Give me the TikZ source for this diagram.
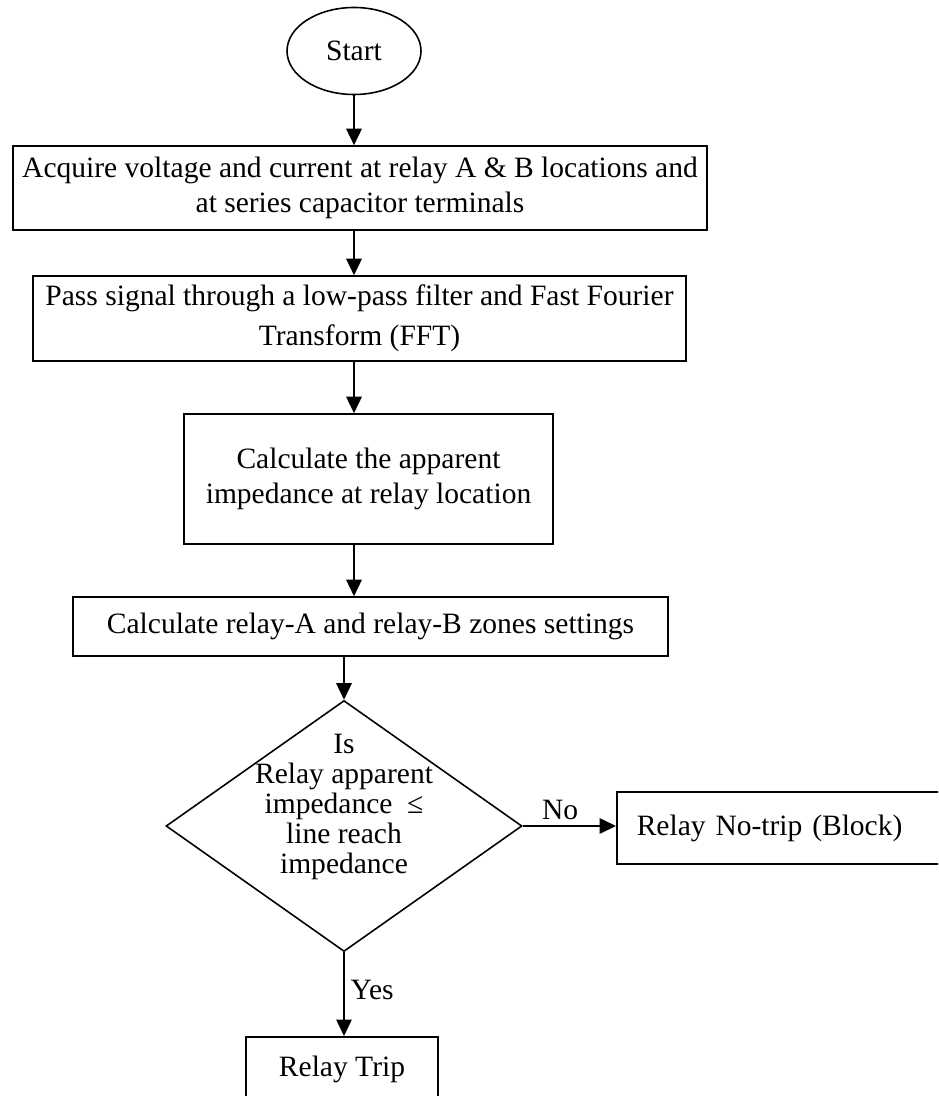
\documentclass[tikz,border=0pt]{standalone}
\usepackage{fontspec}
\setmainfont{Liberation Serif}
\usetikzlibrary{shapes.geometric,arrows.meta}

\begin{document}
\begin{tikzpicture}[
  box/.style={rectangle,draw=black,line width=0.9pt,inner sep=0pt,align=center,font=\fontsize{16.8}{19.5}\selectfont},
  arr/.style={-{Triangle[length=0.33cm,width=0.31cm]},line width=0.9pt}]
\useasboundingbox (0,0) rectangle (18.76,-21.92);
\clip (0,0) rectangle (18.76,-21.92);

\node[ellipse,draw=black,line width=0.9pt,inner sep=0pt,minimum width=2.68cm,minimum height=1.74cm,font=\fontsize{16.8}{19.5}\selectfont] (start) at (7.08,-1.02) {Start};
\node[box,minimum width=13.88cm,minimum height=1.68cm] (acq) at (7.20,-3.76) {Acquire voltage and current at relay A \& B locations and\\at series capacitor terminals};
\node[box,minimum width=13.06cm,minimum height=1.70cm,font=\fontsize{16.8}{22.8}\selectfont] (pass) at (7.19,-6.37) {Pass signal through a low-pass filter and Fast Fourier\\Transform (FFT)};
\node[box,minimum width=7.38cm,minimum height=2.60cm] (calc) at (7.37,-9.58) {Calculate the apparent\\impedance at relay location};
\node[box,minimum width=11.90cm,minimum height=1.18cm] (zones) at (7.41,-12.53) {Calculate relay-A and relay-B zones settings};
\node[diamond,draw=black,line width=0.9pt,inner sep=0pt,minimum width=7.12cm,minimum height=5.02cm,font=\fontsize{16.8}{17.1}\selectfont] (dec) at (6.88,-16.52)
  {\raisebox{0.22cm}[0pt][0pt]{\begin{tabular}{@{}c@{}}Is\\Relay apparent\\impedance\ \ ≤\\line reach\\impedance\end{tabular}}};
\node[box,anchor=west,align=left,inner xsep=0.4cm,text width=5.78cm,minimum height=1.44cm] (notrip) at (12.32,-16.56) {Relay No-trip (Block)};
\node[box,anchor=north,minimum width=3.84cm,minimum height=1.30cm] (trip) at (6.84,-20.72) {Relay Trip};

\draw[arr] (start.south) -- (start.south |- acq.north);
\draw[arr] (start.south |- acq.south) -- (start.south |- pass.north);
\draw[arr] (start.south |- pass.south) -- (start.south |- calc.north);
\draw[arr] (start.south |- calc.south) -- (start.south |- zones.north);
\draw[arr] (dec.north |- zones.south) -- (dec.north);
\draw[arr] (dec.east) -- (dec.east -| notrip.west) node[above,pos=0.4,font=\fontsize{16.8}{19.5}\selectfont] {No};
\draw[arr] (dec.south) -- (dec.south |- trip.north) node[right,pos=0.45,font=\fontsize{16.8}{19.5}\selectfont] {Yes};

\end{tikzpicture}
\end{document}
